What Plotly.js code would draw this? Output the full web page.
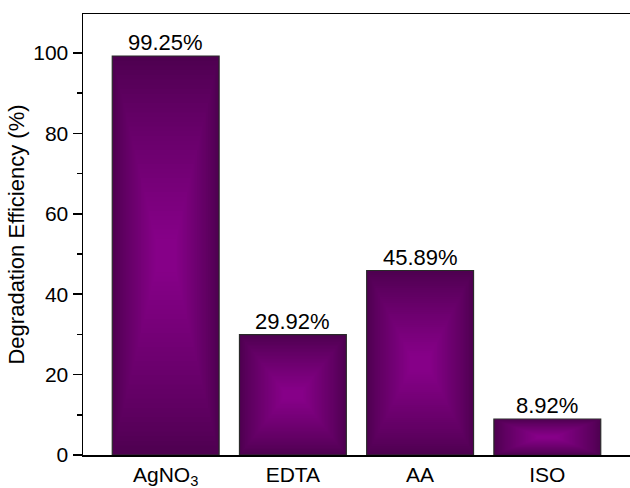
<!DOCTYPE html>
<html>
<head>
<meta charset="utf-8">
<script src="https://cdn.plot.ly/plotly-3.0.1.min.js"></script>
<style>html,body{margin:0;padding:0;background:#fff;}#chart{width:630px;height:488px;}</style>
</head>
<body>
<div id="chart"></div>
<script>
// Data
const categories = ["AgNO<sub>3</sub>", "EDTA", "AA", "ISO"];
const efficiency = [99.25, 29.92, 45.89, 8.92];
const labels = ["99.25%", "29.92%", "45.89%", "8.92%"];
const yTicks = [0, 20, 40, 60, 80, 100];

const barWidth = 0.84;
const dark = [78, 0, 80];
const light = [134, 0, 136];
const nLayers = 40;

function mix(t) {
  const c = dark.map((d, i) => Math.round(d + (light[i] - d) * t));
  return `rgb(${c[0]},${c[1]},${c[2]})`;
}

const traces = [];
for (let k = 0; k < nLayers; k++) {
  const s = 1 - k / nLayers * 0.94;      // fraction of bar size
  const t = Math.pow(k / (nLayers - 1), 0.85);
  traces.push({
    type: 'bar',
    x: categories,
    y: efficiency.map(v => v * s),
    base: efficiency.map(v => v * (1 - s) / 2),
    width: categories.map(() => barWidth * (k === 0 ? 1 : (0.12 + 0.88 * s))),
    marker: {
      color: mix(t),
      line: {width: k === 0 ? 1.2 : 0, color: '#2a2a2a'}
    },
    hoverinfo: 'skip',
    showlegend: false
  });
}

const annotations = categories.map((c, i) => ({
  x: c, y: efficiency[i], xref: 'x', yref: 'y',
  text: labels[i], showarrow: false, yanchor: 'bottom', yshift: -1,
  font: {family: 'Liberation Sans, Arial, sans-serif', size: 22, color: '#000'}
}));

const layout = {
  width: 630, height: 488,
  margin: {l: 83, r: 0, t: 14, b: 33},
  paper_bgcolor: '#fff', plot_bgcolor: '#fff',
  barmode: 'overlay',
  font: {family: 'Liberation Sans, Arial, sans-serif', size: 21, color: '#000'},
  xaxis: {
    range: [-0.65, 3.65],
    showline: true, linecolor: '#000', linewidth: 1.5, mirror: true,
    ticks: '', ticklabelstandoff: 0,
    showgrid: false, zeroline: false,
    tickfont: {size: 21}
  },
  yaxis: {
    range: [0, 109.7],
    tickvals: yTicks,
    showline: true, linecolor: '#000', linewidth: 1.5,
    ticks: 'outside', ticklen: 9, tickwidth: 1.5, tickcolor: '#000',
    minor: {dtick: 10, tick0: 0, ticks: 'outside', ticklen: 5, tickwidth: 1.5, tickcolor: '#000', showgrid: false},
    showgrid: false, zeroline: false,
    tickfont: {size: 21},
    title: {text: 'Degradation Efficiency (%)', font: {size: 22}, standoff: 2}
  },
  annotations: annotations
};

Plotly.newPlot('chart', traces, layout, {displayModeBar: false, staticPlot: true});
</script>
</body>
</html>
